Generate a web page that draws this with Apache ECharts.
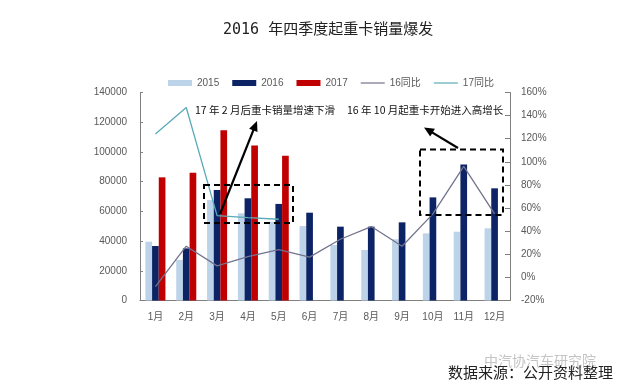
<!DOCTYPE html>
<html>
<head>
<meta charset="utf-8">
<script src="https://cdn.jsdelivr.net/npm/echarts@6/dist/echarts.min.js"></script>
<style>html,body{margin:0;padding:0;background:#fff}#c{width:636px;height:391px}</style>
</head>
<body>
<div id="c"></div>
<script>
var months = ['1月','2月','3月','4月','5月','6月','7月','8月','9月','10月','11月','12月'];
var sales2015 = [39600, 27300, 67600, 58700, 53000, 50100, 37400, 34000, 41200, 45200, 46300, 48600];
var sales2016 = [36700, 35100, 74400, 68800, 65000, 59100, 49700, 49700, 52600, 69400, 91600, 75500];
var sales2017 = [82900, 86000, 114600, 104400, 97500, '-', '-', '-', '-', '-', '-', '-'];
var yoy16 = [-8, 27, 10, 18, 24, 17.5, 33, 44, 27, 55, 96, 55];
var yoy17 = [124, 147, 53.5, 51.7, 50.3, '-', '-', '-', '-', '-', '-', '-'];
var leftTicks = {min: 0, max: 140000, interval: 20000};
var rightTicks = {min: -20, max: 160, interval: 20};

var chart = echarts.init(document.getElementById('c'));
var FONT = 'Liberation Sans, Arial, Noto Sans CJK SC, sans-serif';
var labelColor = '#595959';

function arrow(x1, y1, x2, y2) {
  var dx = x2 - x1, dy = y2 - y1, L = Math.sqrt(dx*dx + dy*dy);
  var ux = dx / L, uy = dy / L, px = -uy, py = ux;
  var hl = 10, hw = 4.5;
  var bx = x2 - ux*hl, by = y2 - uy*hl;
  return [
    {type: 'line', shape: {x1: x1, y1: y1, x2: x2 - ux*6, y2: y2 - uy*6}, style: {stroke: '#000', lineWidth: 2.2}},
    {type: 'polygon', shape: {points: [[x2, y2], [bx + px*hw, by + py*hw], [bx - px*hw, by - py*hw]]}, style: {fill: '#000'}}
  ];
}

var graphics = [
  {type: 'rect', shape: {x: 204, y: 185, width: 89, height: 38}, style: {fill: 'none', stroke: '#000', lineWidth: 2, lineDash: [6, 4]}, z: 10},
  {type: 'rect', shape: {x: 420, y: 149.5, width: 83, height: 65.5}, style: {fill: 'none', stroke: '#000', lineWidth: 2, lineDash: [6, 4]}, z: 10},
  {type: 'text', x: 195, y: 110, style: {text: '17 年 2 月后重卡销量增速下滑', font: '10.5px Noto Sans CJK SC, sans-serif', fill: '#111', textVerticalAlign: 'middle'}, z: 10},
  {type: 'text', x: 347, y: 110, style: {text: '16 年 10 月起重卡开始进入高增长', font: '10.5px Noto Sans CJK SC, sans-serif', fill: '#111', textVerticalAlign: 'middle'}, z: 10},
  {type: 'text', x: 484, y: 361, style: {text: '中汽协汽车研究院', font: '14px Noto Sans CJK SC, sans-serif', fill: '#c4c4c4', textVerticalAlign: 'middle'}, z: 9},
  {type: 'text', x: 448, y: 372, style: {text: '数据来源：公开资料整理', font: '15px Noto Sans CJK SC, sans-serif', fill: '#222', textVerticalAlign: 'middle'}, z: 10}
].concat(arrow(220, 214, 257, 121).map(function(g){g.z = 10; return g;}))
 .concat(arrow(458, 148, 424, 127.5).map(function(g){g.z = 10; return g;}));

var lineIcon = 'path://M0,0H40V2H0Z';

chart.setOption({
  animation: false,
  backgroundColor: '#fff',
  title: {
    text: '2016 年四季度起重卡销量爆发',
    left: 218, top: 18,
    textStyle: {fontSize: 15, fontWeight: 'normal', color: '#222', fontFamily: 'DejaVu Sans Mono, Noto Sans CJK SC, sans-serif'}
  },
  legend: {
    left: 163, top: 73,
    itemWidth: 24, itemHeight: 6, itemGap: 13,
    textStyle: {fontSize: 10, color: labelColor, fontFamily: FONT},
    data: [
      {name: '2015', icon: 'rect'}, {name: '2016', icon: 'rect'}, {name: '2017', icon: 'rect'},
      {name: '16同比', icon: lineIcon}, {name: '17同比', icon: lineIcon}
    ]
  },
  grid: {left: 140, right: 126, top: 92.5, bottom: 90.5},
  xAxis: {
    type: 'category', data: months,
    axisLine: {lineStyle: {color: '#7f7f7f', width: 1}},
    axisTick: {show: false},
    axisLabel: {fontSize: 10, color: labelColor, fontFamily: FONT, margin: 12}
  },
  yAxis: [
    {type: 'value', min: leftTicks.min, max: leftTicks.max, interval: leftTicks.interval,
     axisLine: {show: true, lineStyle: {color: '#7f7f7f'}},
     axisTick: {show: true, inside: true, length: 3, lineStyle: {color: '#7f7f7f'}},
     splitLine: {show: false},
     axisLabel: {fontSize: 10, color: labelColor, fontFamily: FONT, margin: 13, formatter: function (v) { return String(v); }}},
    {type: 'value', min: rightTicks.min, max: rightTicks.max, interval: rightTicks.interval,
     axisLine: {show: true, lineStyle: {color: '#7f7f7f'}},
     axisTick: {show: true, inside: true, length: 5, lineStyle: {color: '#7f7f7f'}},
     splitLine: {show: false},
     axisLabel: {fontSize: 10, color: labelColor, fontFamily: FONT, margin: 11, formatter: '{value}%'}}
  ],
  series: [
    {name: '2015', type: 'bar', data: sales2015, barGap: '0%', barCategoryGap: '35%', itemStyle: {color: '#bdd3ea'}},
    {name: '2016', type: 'bar', data: sales2016, itemStyle: {color: '#0c2465'}},
    {name: '2017', type: 'bar', data: sales2017, itemStyle: {color: '#c00000'}},
    {name: '16同比', type: 'line', yAxisIndex: 1, data: yoy16, symbol: 'none', lineStyle: {color: '#73738f', width: 1.3}, itemStyle: {color: '#73738f'}},
    {name: '17同比', type: 'line', yAxisIndex: 1, data: yoy17, symbol: 'none', lineStyle: {color: '#5aaab8', width: 1.3}, itemStyle: {color: '#5aaab8'}}
  ],
  graphic: graphics
});
</script>
</body>
</html>
